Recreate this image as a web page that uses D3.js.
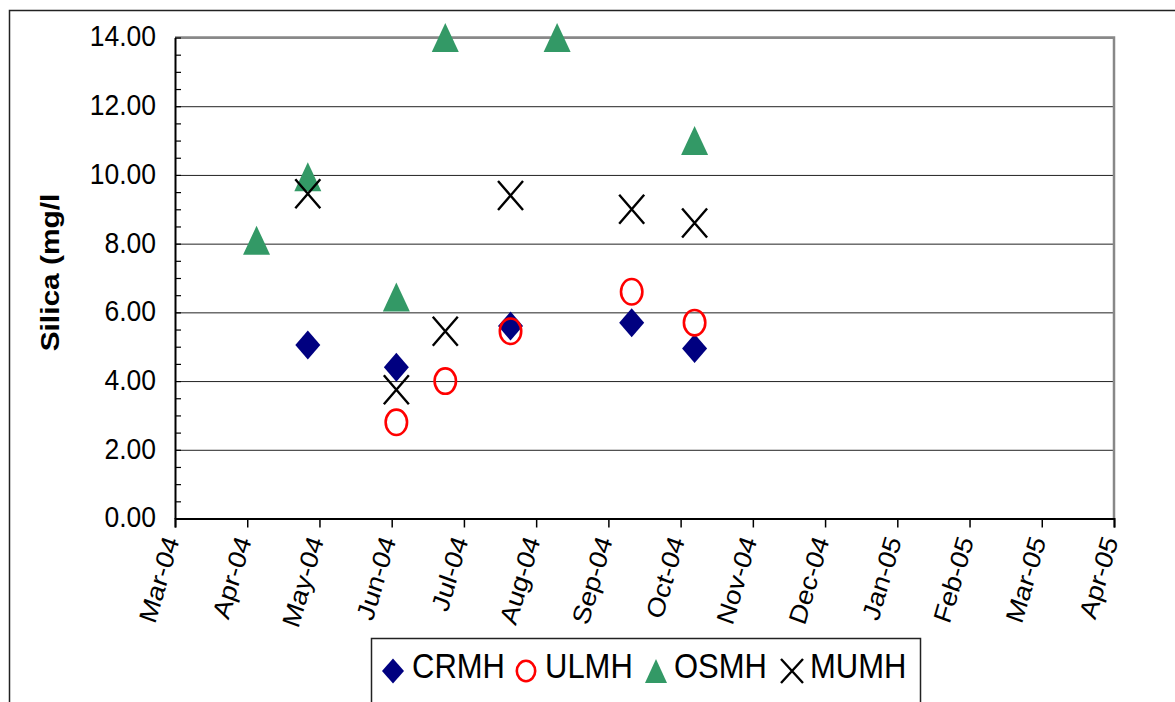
<!DOCTYPE html>
<html>
<head>
<meta charset="utf-8">
<script src="https://cdn.jsdelivr.net/npm/d3@7"></script>
<style>
  body { margin: 0; background: #fff; }
  text { font-family: "Liberation Sans", Arial, sans-serif; fill: #000; }
</style>
</head>
<body>
<div id="chart"></div>
<script>
// sample dates and silica values (mg/l) per site
var crmhDates  = ["2004-04-27", "2004-06-04", "2004-07-23", "2004-09-13", "2004-10-10"];
var crmhValues = [5.05, 4.40, 5.60, 5.70, 4.95];

var ulmhDates  = ["2004-06-04", "2004-06-25", "2004-07-23", "2004-09-13", "2004-10-10"];
var ulmhValues = [2.80, 4.00, 5.45, 6.60, 5.70];

var osmhDates  = ["2004-04-05", "2004-04-27", "2004-06-04", "2004-06-25", "2004-08-12", "2004-10-10"];
var osmhValues = [8.10, 9.95, 6.45, 14.00, 14.00, 11.00];

var mumhDates  = ["2004-04-27", "2004-06-04", "2004-06-25", "2004-07-23", "2004-09-13", "2004-10-10"];
var mumhValues = [9.45, 3.75, 5.45, 9.40, 9.00, 8.60];

var seriesNames = ["CRMH", "ULMH", "OSMH", "MUMH"];

var xTickLabels = ["Mar-04", "Apr-04", "May-04", "Jun-04", "Jul-04", "Aug-04", "Sep-04",
                   "Oct-04", "Nov-04", "Dec-04", "Jan-05", "Feb-05", "Mar-05", "Apr-05"];
var yTicks = [0, 2, 4, 6, 8, 10, 12, 14];
var yMinorTicks = d3.range(0, 14.01, 0.5);

var parseDate = d3.timeParse("%Y-%m-%d");

var W = 1175, H = 702;
var plotLeft = 175, plotRight = 1114, plotTop = 37.5, plotBottom = 518.5;

// excel date axis: major unit of 31 days starting 1 Mar 2004
var start = parseDate("2004-03-01");
var tickDates = xTickLabels.map(function(d, i){ return d3.timeDay.offset(start, 31 * i); });

var x = d3.scaleTime()
    .domain([start, tickDates[tickDates.length - 1]])
    .range([plotLeft, plotRight]);

var y = d3.scaleLinear()
    .domain([0, 14])
    .range([plotBottom, plotTop]);

var svg = d3.select("#chart").append("svg")
    .attr("width", W)
    .attr("height", H);

svg.append("rect").attr("width", W).attr("height", H).attr("fill", "#fff");

// chart area border (cut by the picture edges)
svg.append("rect")
    .attr("x", 9.5).attr("y", 10.5)
    .attr("width", 1300).attr("height", 900)
    .attr("fill", "none").attr("stroke", "#222").attr("stroke-width", 1.5);

// grid lines
svg.append("g")
    .attr("transform", "translate(" + plotLeft + ",0)")
    .call(d3.axisRight(y).tickValues(yTicks.slice(1)).tickSize(plotRight - plotLeft).tickFormat(""))
    .call(function(g){
      g.select(".domain").remove();
      g.selectAll("line").attr("stroke", "#222").attr("stroke-width", 1);
    });

// plot area top/right border
svg.append("path")
    .attr("d", "M" + plotLeft + "," + plotTop + "H" + plotRight + "V" + plotBottom)
    .attr("fill", "none").attr("stroke", "#888").attr("stroke-width", 2.5);

// y minor ticks (inside)
svg.append("g")
    .attr("transform", "translate(" + plotLeft + ",0)")
    .call(d3.axisRight(y).tickValues(yMinorTicks).tickSize(6).tickFormat(""))
    .call(function(g){
      g.select(".domain").remove();
      g.selectAll("line").attr("stroke", "#000").attr("stroke-width", 1.2);
    });

// y axis
svg.append("g")
    .attr("transform", "translate(" + plotLeft + ",0)")
    .call(d3.axisLeft(y).tickValues(yTicks).tickSize(0).tickPadding(19).tickFormat(d3.format(".2f")))
    .call(function(g){
      g.select(".domain").attr("stroke", "#000").attr("stroke-width", 2);
      g.selectAll("text").attr("font-size", "26.5px").attr("font-family", "Liberation Sans, Arial, sans-serif")
        .attr("fill", "#000").attr("dy", "7.7px")
        .attr("transform", "scale(1,1.1)");
    });

// x axis
svg.append("g")
    .attr("transform", "translate(0," + plotBottom + ")")
    .call(d3.axisBottom(x).tickValues(tickDates).tickSize(9)
      .tickFormat(function(d, i){ return xTickLabels[i]; }))
    .call(function(g){
      g.select(".domain").attr("stroke", "#000").attr("stroke-width", 2);
      g.selectAll("line").attr("stroke", "#000").attr("stroke-width", 1.5);
      g.selectAll("text")
        .attr("font-size", "25px").attr("font-family", "Liberation Sans, Arial, sans-serif")
        .attr("fill", "#000")
        .attr("text-anchor", "end")
        .attr("x", 0).attr("y", 0).attr("dy", 0)
        .attr("transform", "translate(4,22) scale(1,1.12) rotate(-72)");
    });

// y axis title
svg.append("text")
    .attr("transform", "translate(59,272.5) rotate(-90) scale(1.15,1)")
    .attr("text-anchor", "middle")
    .attr("font-size", "26px")
    .attr("font-weight", "bold")
    .text("Silica (mg/l");

// marker shapes, w and h are full width and height
function markerPath(shape, w, h){
  var a = w / 2, b = h / 2;
  if (shape == "diamond") return "M0," + (-b) + "L" + a + ",0L0," + b + "L" + (-a) + ",0Z";
  if (shape == "triangle") return "M0," + (-b) + "L" + a + "," + b + "L" + (-a) + "," + b + "Z";
  if (shape == "x") return "M" + (-a) + "," + (-b) + "L" + a + "," + b + "M" + a + "," + (-b) + "L" + (-a) + "," + b;
  return "";
}

var styles = {
  CRMH: { shape: "diamond", fill: "#000080", stroke: "none" },
  ULMH: { shape: "circle", fill: "none", stroke: "#ff0000" },
  OSMH: { shape: "triangle", fill: "#339966", stroke: "none" },
  MUMH: { shape: "x", fill: "none", stroke: "#000" }
};

function drawMarker(sel, name, w, h){
  var s = styles[name];
  if (s.shape == "circle") {
    sel.append("ellipse")
      .attr("rx", w / 2 - 1.3).attr("ry", h / 2 - 1.3)
      .attr("fill", "none").attr("stroke", s.stroke).attr("stroke-width", 2.6);
  } else {
    sel.append("path")
      .attr("d", markerPath(s.shape, w, h))
      .attr("fill", s.fill)
      .attr("stroke", s.stroke)
      .attr("stroke-width", s.shape == "x" ? 2.4 : 0);
  }
}

var series = [
  { name: "CRMH", dates: crmhDates, values: crmhValues },
  { name: "ULMH", dates: ulmhDates, values: ulmhValues },
  { name: "OSMH", dates: osmhDates, values: osmhValues },
  { name: "MUMH", dates: mumhDates, values: mumhValues }
];

var sizes = { CRMH: [25, 29], ULMH: [24, 28], OSMH: [27, 29], MUMH: [25, 29] };

series.forEach(function(s){
  var pts = s.dates.map(function(d, i){ return { date: parseDate(d), value: s.values[i] }; });
  svg.append("g").attr("class", "series-" + s.name)
    .selectAll("g")
    .data(pts)
    .enter().append("g")
    .attr("transform", function(d){ return "translate(" + x(d.date) + "," + y(d.value) + ")"; })
    .each(function(){ drawMarker(d3.select(this), s.name, sizes[s.name][0], sizes[s.name][1]); });
});

// legend
var legend = svg.append("g");
legend.append("rect")
    .attr("x", 371.5).attr("y", 638.5)
    .attr("width", 549).attr("height", 120)
    .attr("fill", "#fff").attr("stroke", "#222").attr("stroke-width", 1.5);

var legendMarkerX = [393, 526, 656, 792];
var legendTextX = [412, 545, 674, 810];
var legendSizes = { CRMH: [22, 25], ULMH: [21, 23], OSMH: [22, 24], MUMH: [22, 24] };

seriesNames.forEach(function(name, i){
  var g = legend.append("g").attr("transform", "translate(" + legendMarkerX[i] + ",671)");
  drawMarker(g, name, legendSizes[name][0], legendSizes[name][1]);
  legend.append("text")
    .attr("transform", "translate(" + legendTextX[i] + ",678) scale(1,1.15)")
    .attr("font-size", "31px")
    .text(name);
});
</script>
</body>
</html>
